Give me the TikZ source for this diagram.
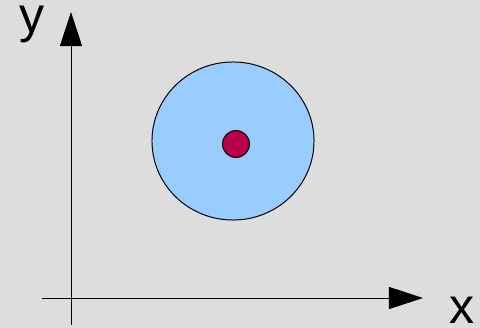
\documentclass[tikz,border=0pt]{standalone}
\usepackage{fontspec}
\setmainfont{Liberation Sans}
\usepackage{xcolor}
\usetikzlibrary{arrows.meta,shapes.geometric}
\definecolor{bggray}{RGB}{221, 221, 221}
\definecolor{skyblue}{RGB}{153, 204, 255}
\definecolor{crimson}{RGB}{184, 0, 74}
\begin{document}
\begin{tikzpicture}[
  x=0.025cm, y=-0.025cm,
  axis/.style={-{Triangle[length=0.85cm, width=0.55cm]}, line width=0.7pt, black},
  lbl/.style={anchor=base, inner sep=0pt, font=\fontsize{35.6}{40}\selectfont},
  region/.style={ellipse, draw=black, line width=0.7pt, fill=skyblue,
                 minimum width=4.05cm, minimum height=3.95cm, inner sep=0pt},
  dot/.style={circle, draw=black, line width=0.7pt, fill=crimson,
              minimum size=0.675cm, inner sep=0pt}
]
\fill[bggray] (0,0) rectangle (480,328);
\useasboundingbox (0,0) rectangle (480,328);

% axes
\coordinate (yfoot) at (71,325);
\coordinate (ytip)  at (71,12);
\coordinate (xfoot) at (42,298);
\coordinate (xtip)  at (423,298);
\draw[axis] (yfoot) -- (ytip);
\draw[axis] (xfoot) -- (xtip);
\node[lbl] (ylabel) at (32.5,33) {y};
\node[lbl] (xlabel) at (462.5,323) {x};

% region and its centre
\node[region] (disc) at (233,141) {};
\node[dot] (centre) at (236,144) {};

\end{tikzpicture}
\end{document}
